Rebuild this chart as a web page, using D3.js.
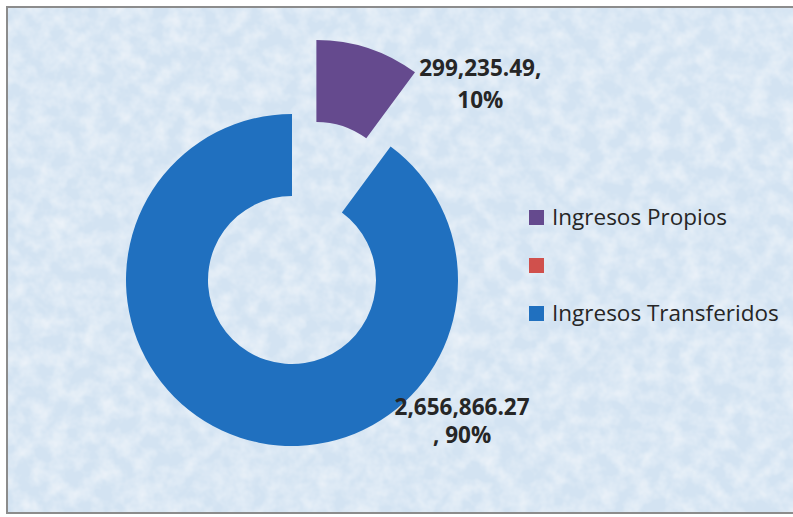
<!DOCTYPE html>
<html>
<head>
<meta charset="utf-8">
<script src="https://cdn.jsdelivr.net/npm/d3@7"></script>
<style>
    html, body { margin: 0; padding: 0; background: #ffffff; }
    svg { display: block; }
</style>
</head>
<body>
<div id="chart"></div>
<script>
// Chart data
const categories = ['Ingresos Propios', '', 'Ingresos Transferidos'];
const values = [299235.49, 0, 2656866.27];
const colors = ['#654a8e', '#d0504c', '#2070bf'];
const explode = [78, 0, 0];

const W = 793, H = 517;
const cx = 292, cy = 280;
const outerR = 166, innerR = 84;

const svg = d3.select('#chart').append('svg')
    .attr('width', W)
    .attr('height', H);

// Textured light blue background
const defs = svg.append('defs');
const filter = defs.append('filter')
    .attr('id', 'paper')
    .attr('x', 0).attr('y', 0)
    .attr('width', '100%').attr('height', '100%');
filter.append('feTurbulence')
    .attr('type', 'fractalNoise')
    .attr('baseFrequency', 0.06)
    .attr('numOctaves', 3)
    .attr('seed', 7)
    .attr('result', 'noise');
filter.append('feColorMatrix')
    .attr('in', 'noise')
    .attr('type', 'matrix')
    .attr('values', '0 0 0 0 1  0 0 0 0 1  0 0 0 0 1  0.9 0 0 0 -0.3')
    .attr('result', 'spots');
filter.append('feComposite')
    .attr('in', 'spots')
    .attr('in2', 'SourceGraphic')
    .attr('operator', 'atop');

svg.append('rect')
    .attr('x', 7).attr('y', 7)
    .attr('width', W).attr('height', 506)
    .attr('fill', '#d3e3f2')
    .attr('filter', 'url(#paper)');

svg.append('rect')
    .attr('x', 7).attr('y', 7)
    .attr('width', W).attr('height', 506)
    .attr('fill', 'none')
    .attr('stroke', '#8c8c8c')
    .attr('stroke-width', 2);

// Donut
const pie = d3.pie().sort(null).value(d => d)
    .startAngle(0).endAngle(2 * Math.PI);
const arcs = pie(values);

const arc = d3.arc().innerRadius(innerR).outerRadius(outerR);

const g = svg.append('g').attr('transform', `translate(${cx},${cy})`);

g.selectAll('path.slice')
    .data(arcs)
    .join('path')
    .attr('class', 'slice')
    .attr('fill', (d, i) => colors[i])
    .attr('transform', (d, i) => {
        const a = (d.startAngle + d.endAngle) / 2;
        return `translate(${Math.sin(a) * explode[i]},${-Math.cos(a) * explode[i]})`;
    })
    .attr('d', arc);

// Data labels
const total = d3.sum(values);
const fmt = d3.format(',.2f');
const labelStyle = sel => sel
    .attr('text-anchor', 'middle')
    .style('font-family', '"Open Sans", sans-serif')
    .style('font-weight', 'bold')
    .style('font-size', '22.5px')
    .style('fill', '#262626');

// Purple label (10%), placed beside the exploded slice
const p = arcs[0];
const pa = (p.startAngle + p.endAngle) / 2;
const px = Math.sin(pa) * (outerR + explode[0]) + 112;
const py = -Math.cos(pa) * (outerR + explode[0]) + 28;
g.append('text').call(labelStyle)
    .attr('x', px).attr('y', py)
    .text(fmt(values[0]) + ',');
g.append('text').call(labelStyle)
    .attr('x', px).attr('y', py + 32)
    .text(d3.format('.0%')(values[0] / total));

// Blue label (90%)
const b = arcs[2];
const ba = (b.startAngle + b.endAngle) / 2;
const bx = Math.sin(ba) * outerR + 222;
const by = -Math.cos(ba) * outerR - 23;
g.append('text').call(labelStyle)
    .attr('x', bx).attr('y', by)
    .text(fmt(values[2]));
g.append('text').call(labelStyle)
    .attr('x', bx).attr('y', by + 28)
    .text(', ' + d3.format('.0%')(values[2] / total));

// Legend
const legend = svg.append('g')
    .attr('transform', 'translate(529, 210)');

const rows = legend.selectAll('g.item')
    .data(categories)
    .join('g')
    .attr('class', 'item')
    .attr('transform', (d, i) => `translate(0, ${i * 48})`);

rows.append('rect')
    .attr('width', 15)
    .attr('height', 15)
    .attr('fill', (d, i) => colors[i]);

rows.append('text')
    .attr('x', 23)
    .attr('y', 15)
    .style('font-family', '"Open Sans", sans-serif')
    .style('font-size', '22.5px')
    .style('fill', '#262626')
    .text(d => d);
</script>
</body>
</html>
